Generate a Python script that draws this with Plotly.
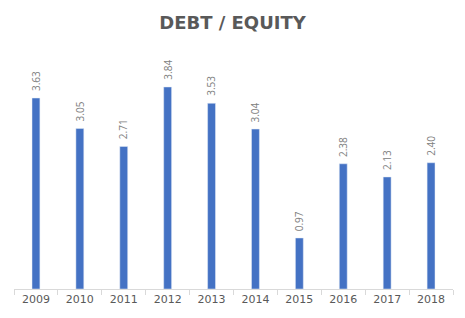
import plotly.graph_objects as go

years = ["2009", "2010", "2011", "2012", "2013", "2014", "2015", "2016", "2017", "2018"]
values = [3.63, 3.05, 2.71, 3.84, 3.53, 3.04, 0.97, 2.38, 2.13, 2.40]
labels = [f"{v:.2f}" for v in values]

fig = go.Figure(go.Bar(
    x=years, y=values,
    marker_color="#4472c4", cliponaxis=False,
))
for i, (v, t) in enumerate(zip(values, labels)):
    fig.add_annotation(x=i, y=v, text=t, textangle=-90, showarrow=False,
                       yanchor="bottom", xanchor="center", yshift=5,
                       font=dict(family="Open Sans", size=10, color="#808080"))
fig.update_layout(
    width=465, height=318, paper_bgcolor="white", plot_bgcolor="white",
    margin=dict(l=14, r=12, t=47, b=29),
    bargap=0.82, showlegend=False,
    title=dict(text="<b>DEBT / EQUITY</b>", x=0.5, xanchor="center", y=0.93, yanchor="middle",
               font=dict(family="DejaVu Sans", size=18, color="#595959")),
    xaxis=dict(type="category", range=[-0.5, len(years) - 0.5], showline=True, linecolor="#d9d9d9",
               linewidth=1, ticks="outside", tickson="boundaries", ticklen=5, tickcolor="#d9d9d9",
               tickfont=dict(family="DejaVu Sans", size=11, color="#595959"),
               showgrid=False),
    yaxis=dict(range=[0, 4.6], visible=False, showgrid=False),
)
fig.write_html("out.html")
